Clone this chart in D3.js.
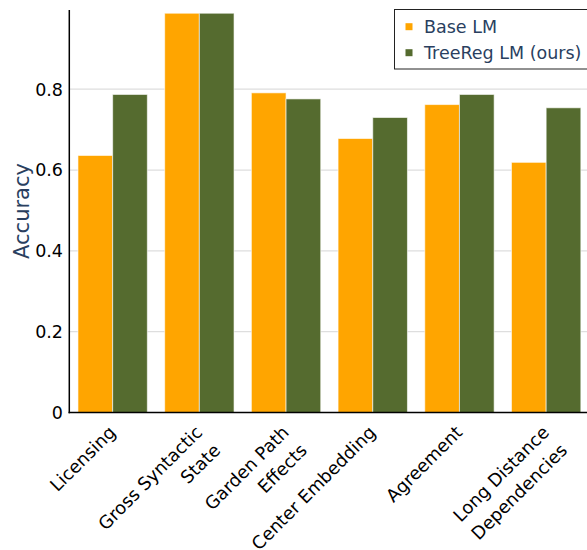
<!DOCTYPE html>
<html>
<head>
<meta charset="utf-8">
<script src="https://cdn.jsdelivr.net/npm/d3@7/dist/d3.min.js"></script>
<style>
  html, body { margin: 0; padding: 0; background: #fff; }
  svg { display: block; font-family: "DejaVu Sans", sans-serif; }
</style>
</head>
<body>
<svg id="chart" width="587" height="550"></svg>
<script>
const categories = [
  ["Licensing"],
  ["Gross Syntactic", "State"],
  ["Garden Path", "Effects"],
  ["Center Embedding"],
  ["Agreement"],
  ["Long Distance", "Dependencies"]
];
const seriesNames = ["Base LM", "TreeReg LM (ours)"];
const baseLM = [0.636, 0.988, 0.791, 0.678, 0.762, 0.619];
const treeRegLM = [0.787, 0.988, 0.776, 0.730, 0.787, 0.754];
const yTicks = [0, 0.2, 0.4, 0.6, 0.8];
const yTickLabels = ["0", "0.2", "0.4", "0.6", "0.8"];
const colors = ["#FFA500", "#556B2F"];

(function () {
const svg = d3.select("#chart");
const pLeft = 69.3, pRight = 589.5, pTop = 10, pBottom = 412.5;

const x = d3.scaleBand().domain(d3.range(categories.length)).range([pLeft, pRight]).paddingInner(0.2).paddingOuter(0.1);
const xs = d3.scaleBand().domain([0, 1]).range([0, x.bandwidth()]);
const y = d3.scaleLinear().domain([0, 0.996]).range([pBottom, pTop]);

// gridlines
svg.append("g").selectAll("line").data(yTicks.filter(d => d > 0)).join("line")
  .attr("x1", pLeft).attr("x2", 587)
  .attr("y1", d => y(d)).attr("y2", d => y(d))
  .attr("stroke", "#dedede").attr("stroke-width", 1.2);

// bars
const series = [baseLM, treeRegLM];
series.forEach((vals, si) => {
  svg.append("g").selectAll("rect").data(vals).join("rect")
    .attr("x", (d, i) => x(i) + xs(si))
    .attr("width", xs.bandwidth())
    .attr("y", d => y(d))
    .attr("height", d => pBottom - y(d))
    .attr("fill", colors[si])
    .attr("stroke", "#ffffff").attr("stroke-opacity", 0.6).attr("stroke-width", 1);
});

// axes lines
svg.append("line").attr("x1", pLeft).attr("x2", pLeft).attr("y1", pTop).attr("y2", pBottom + 0.75)
  .attr("stroke", "#000").attr("stroke-width", 1.5);
svg.append("line").attr("x1", pLeft - 0.75).attr("x2", 587).attr("y1", pBottom).attr("y2", pBottom)
  .attr("stroke", "#000").attr("stroke-width", 1.5);

// y tick labels
svg.append("g").selectAll("text").data(yTicks).join("text")
  .attr("x", 63).attr("y", d => y(d))
  .attr("dy", "0.36em")
  .attr("text-anchor", "end")
  .attr("font-size", 17.5).attr("fill", "#000")
  .text((d, i) => yTickLabels[i]);

// y title
svg.append("text")
  .attr("transform", `translate(29, 211) rotate(-90)`)
  .attr("text-anchor", "middle")
  .attr("font-size", 21).attr("fill", "#2a3f5f")
  .text("Accuracy");

// x tick labels
const xl = svg.append("g").selectAll("text").data(categories).join("text")
  .attr("transform", (d, i) => `translate(${x(i) + x.bandwidth() / 2 + 4}, ${pBottom + 21}) rotate(-45)`)
  .attr("text-anchor", "end")
  .attr("font-size", 17.8).attr("fill", "#000");
xl.each(function(lines) {
  const t = d3.select(this);
  lines.forEach((ln, k) => {
    t.append("tspan").attr("x", 0).attr("y", k * 25.5).text(ln);
  });
});

// legend
const lg = svg.append("g");
lg.append("rect").attr("x", 394.5).attr("y", 9.5).attr("width", 200).attr("height", 59.5)
  .attr("fill", "#fff").attr("stroke", "#222").attr("stroke-width", 1);
seriesNames.forEach((name, i) => {
  const cy = 26.7 + i * 26;
  lg.append("rect").attr("x", 405.5).attr("y", cy - 3.5).attr("width", 7).attr("height", 7)
    .attr("fill", colors[i]);
  lg.append("text").attr("x", 424).attr("y", cy).attr("dy", "0.36em")
    .attr("font-size", 17.5).attr("fill", "#2a3f5f").text(name);
});
})();
</script>
</body>
</html>
